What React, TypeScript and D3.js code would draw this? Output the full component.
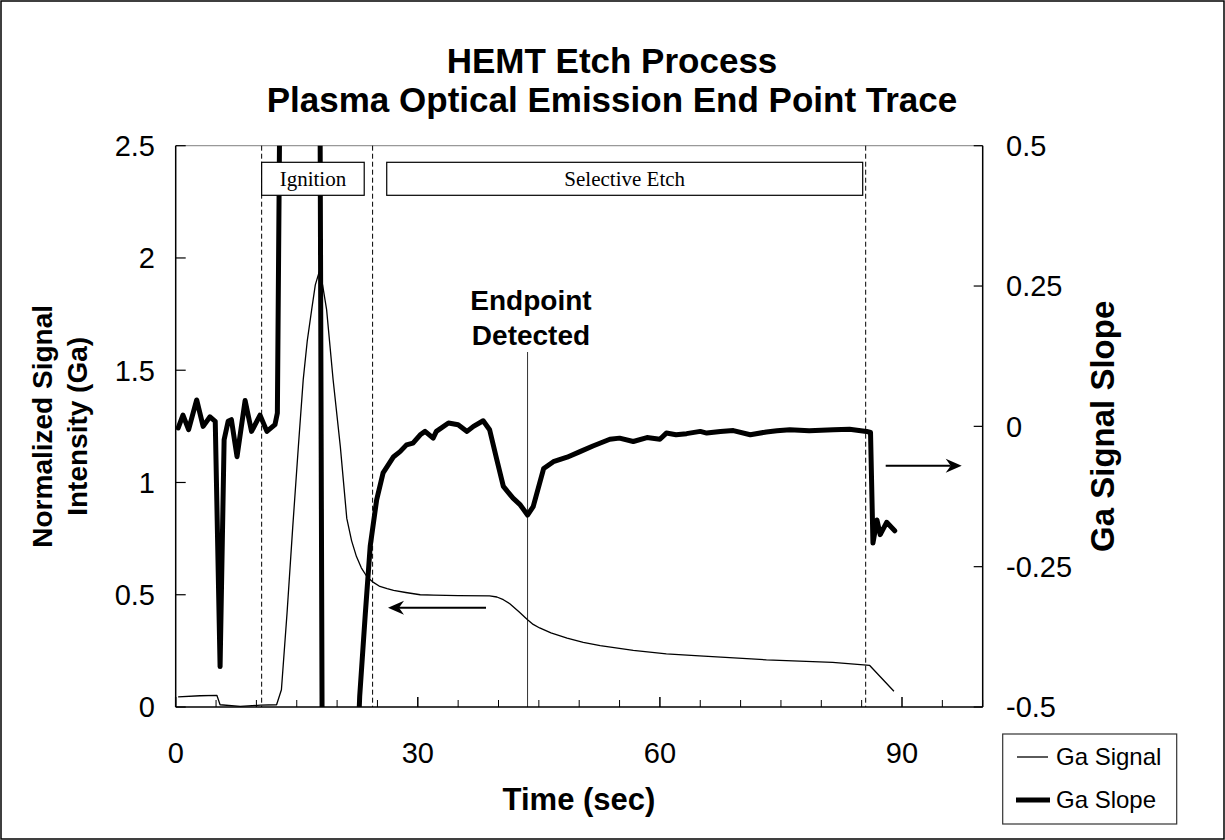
import React from "react";
import * as d3 from "d3";

const W = 1225;
const H = 840;

// Ga emission signal (normalized) versus time
const timeSignal = [
  0.3, 3.0, 5.1, 5.5, 8.0, 10.5, 12.5, 13.1, 13.8, 14.5, 15.2, 15.8, 16.3, 16.85, 17.3, 17.8, 18.2,
  18.7, 19.5, 20.4, 21.2, 21.8, 22.4, 23.0, 23.7, 24.5, 25.3, 26.2, 27.0, 28.5, 30.3, 32.0, 35.0,
  38.9, 39.8, 40.6, 41.4, 42.5, 43.6, 44.3, 45.1, 46.5, 48.5, 50.5, 52.6, 56.7, 60.8, 64.9, 73.2,
  81.4, 86.0, 89.0,
];
const gaSignal = [
  0.045, 0.05, 0.052, 0.01, 0.003, 0.008, 0.01, 0.077, 0.42, 0.8, 1.16, 1.457, 1.63, 1.77, 1.88, 1.94,
  1.88, 1.77, 1.46, 1.16, 0.84, 0.74, 0.67, 0.62, 0.58, 0.555, 0.537, 0.527, 0.519, 0.51, 0.5, 0.498,
  0.496, 0.495, 0.49, 0.478, 0.46, 0.425, 0.389, 0.368, 0.352, 0.33, 0.307, 0.288, 0.273, 0.252,
  0.237, 0.228, 0.21, 0.199, 0.185, 0.07,
];

// Slope of the Ga signal versus time
const timeSlope = [
  0.3, 0.9, 1.6, 2.6, 3.4, 4.25, 4.9, 5.5, 6.0, 6.5, 6.9, 7.6, 8.6, 9.4, 10.45, 11.3, 12.3, 12.6,
  13.4, 17.6, 18.6, 22.2, 22.8, 23.5, 24.1, 24.9, 25.7, 27.0, 27.8, 28.6, 29.4, 30.3, 30.9, 31.9,
  32.3, 33.8, 35.0, 36.1, 36.9, 38.1, 38.9, 39.8, 40.6, 41.8, 42.7, 43.6, 44.3, 45.6, 46.8, 48.5,
  50.1, 51.7, 53.8, 55.0, 56.7, 58.4, 60.0, 60.8, 62.0, 63.3, 65.0, 65.8, 67.5, 69.1, 71.2, 73.2,
  74.5, 76.1, 78.5, 81.5, 83.5, 85.6, 86.1, 86.4, 86.9, 87.3, 88.1, 89.1,
];
const gaSlope = [
  -0.003, 0.02, -0.006, 0.047, 0.0, 0.017, 0.009, -0.428, -0.024, 0.009, 0.012, -0.054, 0.046, -0.009,
  0.02, -0.009, 0.003, 0.024, 1.5, 1.8, -2.5, -0.7, -0.481, -0.333, -0.214, -0.131, -0.083, -0.054,
  -0.045, -0.033, -0.03, -0.015, -0.009, -0.021, -0.009, 0.006, 0.003, -0.009, 0.0, 0.01, -0.006,
  -0.06, -0.107, -0.128, -0.14, -0.158, -0.143, -0.075, -0.063, -0.055, -0.045, -0.035, -0.023,
  -0.021, -0.027, -0.02, -0.023, -0.012, -0.015, -0.013, -0.009, -0.012, -0.009, -0.0075, -0.015,
  -0.01, -0.008, -0.006, -0.008, -0.006, -0.005, -0.009, -0.011, -0.208, -0.167, -0.193, -0.171,
  -0.186,
];

const xTicks = [0, 30, 60, 90];
const xMinorTicks = d3.range(0, 101, 5);
const leftTicks = [0, 0.5, 1, 1.5, 2, 2.5];
const rightTicks = [-0.5, -0.25, 0, 0.25, 0.5];
const phaseNames = ["Ignition", "Selective Etch"];
const phaseStart = [10.65, 26.15];
const phaseEnd = [23.36, 85.13];
const phaseBoundaries = [10.65, 24.4, 85.5];
const endpointTime = 43.6;

const plot = { left: 175.7, right: 982.7, top: 145.7, bottom: 707 };

const x = d3.scaleLinear().domain([0, 100]).range([plot.left, plot.right]);
const yL = d3.scaleLinear().domain([0, 2.5]).range([plot.bottom, plot.top]);
const yR = d3.scaleLinear().domain([-0.5, 0.5]).range([plot.bottom, plot.top]);

const signalPts: [number, number][] = timeSignal.map((t, i) => [t, gaSignal[i]]);
const slopePts: [number, number][] = timeSlope.map((t, i) => [t, gaSlope[i]]);

const signalLine = d3
  .line<[number, number]>()
  .x((d) => x(d[0]))
  .y((d) => yL(d[1]));
const slopeLine = d3
  .line<[number, number]>()
  .x((d) => x(d[0]))
  .y((d) => yR(d[1]));

const SANS = "'Liberation Sans', Arial, Helvetica, sans-serif";
const SERIF = "'Liberation Serif', 'Times New Roman', serif";

function Arrow({ x1, x2, y }: { x1: number; x2: number; y: number }) {
  const dir = Math.sign(x2 - x1);
  const back = x2 - dir * 16;
  const notch = x2 - dir * 11;
  return (
    <g>
      <line x1={x1} x2={notch} y1={y} y2={y} stroke="#000" strokeWidth={2} />
      <path d={`M${x2},${y} L${back},${y - 7} L${notch},${y} L${back},${y + 7} Z`} fill="#000" />
    </g>
  );
}

export default function App() {
  return (
    <svg
      width={W}
      height={H}
      viewBox={`0 0 ${W} ${H}`}
      style={{ position: "absolute", left: 0, top: 0, background: "#fff" }}
    >
      <defs>
        <clipPath id="plotClip">
          <rect x={plot.left} y={plot.top} width={plot.right - plot.left} height={plot.bottom - plot.top} />
        </clipPath>
      </defs>
      <rect x={0} y={0} width={W} height={H} fill="#fff" />
      <rect x={1} y={1} width={W - 2} height={H - 2} fill="none" stroke="#000" strokeWidth={1.5} />

      {/* Title */}
      <text x={612} y={73} textAnchor="middle" fontFamily={SANS} fontWeight="bold" fontSize={35}>
        HEMT Etch Process
      </text>
      <text x={612} y={112} textAnchor="middle" fontFamily={SANS} fontWeight="bold" fontSize={35}>
        Plasma Optical Emission End Point Trace
      </text>

      {/* Frame */}
      <line x1={plot.left} x2={plot.right} y1={plot.top} y2={plot.top} stroke="#999" strokeWidth={1.2} />

      {/* Phase boundaries */}
      {phaseBoundaries.map((t) => (
        <line
          key={t}
          x1={x(t)}
          x2={x(t)}
          y1={plot.top}
          y2={plot.bottom}
          stroke="#000"
          strokeWidth={1}
          strokeDasharray="5,3"
        />
      ))}

      {/* Endpoint marker */}
      <line x1={x(endpointTime)} x2={x(endpointTime)} y1={352} y2={plot.bottom} stroke="#333" strokeWidth={1} />

      {/* Data */}
      <g clipPath="url(#plotClip)">
        <path d={signalLine(signalPts) || ""} fill="none" stroke="#000" strokeWidth={1.3} strokeLinejoin="round" />
        <path
          d={slopeLine(slopePts) || ""}
          fill="none"
          stroke="#000"
          strokeWidth={5}
          strokeLinejoin="round"
          strokeLinecap="round"
        />
      </g>

      {/* Phase labels */}
      {phaseNames.map((name, i) => (
        <g key={name}>
          <rect
            x={x(phaseStart[i])}
            y={162.3}
            width={x(phaseEnd[i]) - x(phaseStart[i])}
            height={33}
            fill="#fff"
            stroke="#000"
            strokeWidth={1.2}
          />
          <text
            x={(x(phaseStart[i]) + x(phaseEnd[i])) / 2}
            y={186}
            textAnchor="middle"
            fontFamily={SERIF}
            fontSize={21}
          >
            {name}
          </text>
        </g>
      ))}

      {/* Axes */}
      <line x1={plot.left} x2={plot.left} y1={plot.top} y2={plot.bottom} stroke="#000" strokeWidth={1.5} />
      <line x1={plot.right} x2={plot.right} y1={plot.top} y2={plot.bottom} stroke="#000" strokeWidth={1.5} />
      <line x1={plot.left} x2={plot.right} y1={plot.bottom} y2={plot.bottom} stroke="#000" strokeWidth={1.5} />

      {xMinorTicks.map((t) => (
        <line
          key={"xm" + t}
          x1={x(t)}
          x2={x(t)}
          y1={plot.bottom}
          y2={plot.bottom - (t % 30 === 0 ? 10 : 7)}
          stroke="#000"
          strokeWidth={t % 30 === 0 ? 1.5 : 1}
        />
      ))}
      {xTicks.map((t) => (
        <text key={"xl" + t} x={x(t)} y={763} textAnchor="middle" fontFamily={SANS} fontSize={29}>
          {t}
        </text>
      ))}

      {leftTicks.map((v) => (
        <g key={"yl" + v}>
          <line x1={plot.left} x2={plot.left + 10} y1={yL(v)} y2={yL(v)} stroke="#000" strokeWidth={1.2} />
          <text x={155} y={yL(v)} dy="0.36em" textAnchor="end" fontFamily={SANS} fontSize={29}>
            {v}
          </text>
        </g>
      ))}

      {rightTicks.map((v) => (
        <g key={"yr" + v}>
          <line x1={plot.right} x2={plot.right - 9} y1={yR(v)} y2={yR(v)} stroke="#000" strokeWidth={1.2} />
          <text x={1006} y={yR(v)} dy="0.36em" textAnchor="start" fontFamily={SANS} fontSize={29}>
            {v}
          </text>
        </g>
      ))}

      {/* Axis titles */}
      <text x={579} y={810} textAnchor="middle" fontFamily={SANS} fontWeight="bold" fontSize={31}>
        Time (sec)
      </text>
      <text
        transform={`translate(52, ${(plot.top + plot.bottom) / 2}) rotate(-90)`}
        textAnchor="middle"
        fontFamily={SANS}
        fontWeight="bold"
        fontSize={28}
      >
        Normalized Signal
      </text>
      <text
        transform={`translate(87, ${(plot.top + plot.bottom) / 2}) rotate(-90)`}
        textAnchor="middle"
        fontFamily={SANS}
        fontWeight="bold"
        fontSize={28}
      >
        Intensity (Ga)
      </text>
      <text
        transform={`translate(1114, ${(plot.top + plot.bottom) / 2}) rotate(-90)`}
        textAnchor="middle"
        fontFamily={SANS}
        fontWeight="bold"
        fontSize={33}
      >
        Ga Signal Slope
      </text>

      {/* Endpoint annotation */}
      <text x={531} y={310} textAnchor="middle" fontFamily={SANS} fontWeight="bold" fontSize={28}>
        Endpoint
      </text>
      <text x={531} y={345} textAnchor="middle" fontFamily={SANS} fontWeight="bold" fontSize={28}>
        Detected
      </text>

      {/* Axis pointers */}
      <Arrow x1={486} x2={388} y={607.7} />
      <Arrow x1={885.7} x2={961.7} y={465.7} />

      {/* Legend */}
      <rect x={1002.7} y={734} width={174} height={90} fill="#fff" stroke="#333" strokeWidth={1.2} />
      <line x1={1017} x2={1048} y1={757} y2={757} stroke="#000" strokeWidth={1.3} />
      <line x1={1016} x2={1050} y1={800} y2={800} stroke="#000" strokeWidth={5} />
      <text x={1056} y={765} fontFamily={SANS} fontSize={24}>
        Ga Signal
      </text>
      <text x={1056} y={808} fontFamily={SANS} fontSize={24}>
        Ga Slope
      </text>
    </svg>
  );
}
